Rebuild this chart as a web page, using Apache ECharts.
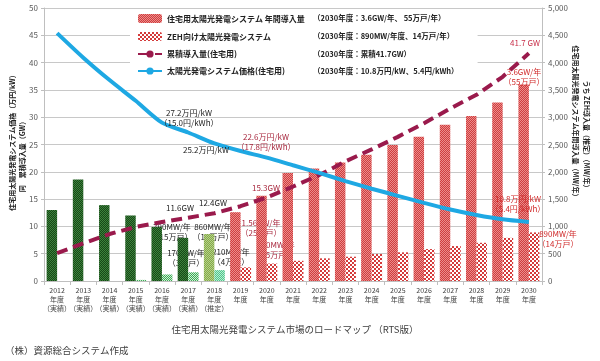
<!DOCTYPE html>
<html><head><meta charset="utf-8">
<script src="https://cdn.jsdelivr.net/npm/echarts@6/dist/echarts.min.js"></script>
<style>html,body{margin:0;padding:0;background:#fff}#c{width:600px;height:361px}</style>
</head><body><div id="c"></div>
<script>
const years = ['2012','2013','2014','2015','2016','2017','2018','2019','2020','2021','2022','2023','2024','2025','2026','2027','2028','2029','2030'];
const status = ['実績','実績','実績','実績','実績','実績','推定','','','','','','','','','','','',''];
const annualMW = [1300,1860,1390,1200,990,790,860,1260,1560,1980,2060,2170,2310,2490,2640,2860,3020,3270,3600];
const zehMW = [0,0,0,20,120,160,200,250,320,370,415,445,495,525,585,640,700,790,890];
const cumulativeGW = [5.1,6.9,8.6,9.9,10.8,11.6,12.4,13.7,15.3,17.3,19.4,21.9,24.1,26.4,28.9,31.6,34.1,37.4,41.7];
const priceManYen = [45.4,40.9,36.8,33.0,29.0,27.2,25.2,23.8,22.6,21.2,19.8,18.3,16.9,15.6,14.3,13.1,12.1,11.3,10.8];
const seriesNames = ['住宅用太陽光発電システム 年間導入量','ZEH向け太陽光発電システム','累積導入量(住宅用)','太陽光発電システム価格(住宅用)'];
const legendNotes = ['（2030年度：3.6GW/年、 55万戸/年）','（2030年度：890MW/年度、14万戸/年）','（2030年度：累積41.7GW）','（2030年度：10.8万円/kW、5.4円/kWh）'];
const leftTicks = {min:0,max:50,interval:5};
const rightTicks = {min:0,max:5000,interval:500};

const F = '"Noto Sans CJK JP","Noto Sans",sans-serif';
function checker(a,b,s){const c=document.createElement('canvas');c.width=c.height=2*s;const g=c.getContext('2d');g.fillStyle=a;g.fillRect(0,0,2*s,2*s);g.fillStyle=b;g.fillRect(0,0,s,s);g.fillRect(s,s,s,s);return {image:c,repeat:'repeat'};}
const P = {
  mainGreen: checker('#174717','#3C823C',1),
  mainOlive: checker('#86AA48','#B4D08A',1),
  mainRed: checker('#CF3E3E','#EC8C8C',1),
  zehGreen: checker('#3DAA55','#CDEFD3',1),
  zehTeal: checker('#4FC68C','#B5EDD0',1),
  zehRed: checker('#D43A3A','#FFFFFF',2)
};
function mainColor(i){return status[i]==='実績'?P.mainGreen:(status[i]==='推定'?P.mainOlive:P.mainRed);}
function zehColor(i){return status[i]==='実績'?P.zehGreen:(status[i]==='推定'?P.zehTeal:P.zehRed);}

const chart = echarts.init(document.getElementById('c'),null,{renderer:'canvas'});
const txt = (text,x,y,color,z,size)=>({type:'text',x:x,y:y,z:z||100,style:{text:text,fill:color||'#222',font:(size||8)+'px '+F,align:'center',verticalAlign:'middle',lineHeight:10}});
const vtxt = (text,x,y,rot)=>({type:'text',x:x,y:y,z:100,rotation:rot,style:{text:text,fill:'#222',font:'bold 7px '+F,align:'center',verticalAlign:'middle'}});
const dred='#A8283E', red='#D02A2A';
chart.setOption({
  animation:false,
  textStyle:{fontFamily:F},
  grid:{left:44,right:58,top:8,bottom:80},
  legend:{
    orient:'vertical',left:130,top:10,padding:[4,19,6,7],backgroundColor:'#fff',
    itemWidth:24,itemHeight:9,itemGap:9,
    data:seriesNames,
    formatter:function(n){return '{a|'+n+'}{b|'+legendNotes[seriesNames.indexOf(n)]+'}';},
    textStyle:{fontSize:8,fontWeight:'bold',color:'#222',rich:{a:{width:146,fontSize:8,fontWeight:'bold',color:'#222'},b:{fontSize:7.5,fontWeight:'bold',color:'#222'}}}
  },
  xAxis:{type:'category',data:years,
    axisLine:{lineStyle:{color:'#BFBFBF'}},
    axisTick:{show:true,length:4,lineStyle:{color:'#BFBFBF'}},
    axisLabel:{interval:0,fontSize:7,lineHeight:9,color:'#404040',margin:5,
      formatter:function(v,i){return v+'\n年度'+(status[i]?'\n（'+status[i]+'）':'');}}
  },
  yAxis:[
    {type:'value',min:leftTicks.min,max:leftTicks.max,interval:leftTicks.interval,
     axisLine:{show:true,lineStyle:{color:'#BFBFBF'}},axisTick:{show:true,length:3,lineStyle:{color:'#BFBFBF'}},
     splitLine:{lineStyle:{color:'#C8C8C8'}},axisLabel:{fontSize:8,color:'#595959',margin:6}},
    {type:'value',min:rightTicks.min,max:rightTicks.max,interval:rightTicks.interval,position:'right',
     axisLine:{show:true,lineStyle:{color:'#BFBFBF'}},axisTick:{show:true,length:3,lineStyle:{color:'#BFBFBF'}},
     splitLine:{show:false},axisLabel:{fontSize:8,color:'#595959',margin:6,formatter:function(v){return v.toLocaleString('en-US');}}}
  ],
  series:[
    {name:seriesNames[0],type:'bar',yAxisIndex:1,barGap:'0%',barCategoryGap:'20%',
     itemStyle:{color:P.mainRed},data:annualMW.map((v,i)=>({value:v,itemStyle:{color:mainColor(i)}}))},
    {name:seriesNames[1],type:'bar',yAxisIndex:1,
     itemStyle:{color:P.zehRed},data:zehMW.map((v,i)=>({value:v,itemStyle:{color:zehColor(i)}}))},
    {name:seriesNames[2],type:'line',yAxisIndex:0,symbol:'none',z:3,
     itemStyle:{color:'#9A1A4C'},lineStyle:{color:'#9A1A4C',width:4,type:[11,6]},data:cumulativeGW},
    {name:seriesNames[3],type:'line',yAxisIndex:0,symbol:'none',smooth:0.25,z:4,
     itemStyle:{color:'#1EA8E3'},lineStyle:{color:'#1EA8E3',width:4},data:priceManYen}
  ],
  graphic:[
    vtxt('住宅用太陽光発電システム価格（万円/kW）',12,141,Math.PI/2),
    vtxt('同　累積導入量（GW）',22,155,Math.PI/2),
    vtxt('住宅用太陽光発電システム年間導入量（MW/年）',576,123,-Math.PI/2),
    vtxt('うち ZEH導入量（推定）（MW/年）',587,136,-Math.PI/2),
    txt('27.2万円/kW\n（15.0円/kWh）',189,118,'#222'),
    txt('25.2万円/kW',206,150,'#222'),
    txt('22.6万円/kW\n（17.8円/kWh）',266,142,dred),
    txt('15.3GW',266,188,dred),
    txt('11.6GW',180,208,'#222'),
    txt('12.4GW',213,203,'#222'),
    txt('790MW/年\n（15万戸）',172,232,'#222',1),
    txt('860MW/年\n（15万戸）',213,232,'#222',1),
    txt('170MW/年\n（3万戸）',186,258,'#222',1),
    txt('210MW/年\n（4万戸）',231,257,'#222',1),
    txt('1.56GW/年\n（25万戸）',261,228,dred,1),
    txt('320MW/年\n（5万戸）',276,250,dred,1),
    txt('41.7 GW',525,43,'#C8304A'),
    txt('3.6GW/年\n（55万戸）',524,77,red),
    txt('10.8万円/kW\n（5.4円/kWh）',518,204,red),
    txt('890MW/年\n（14万戸）',558,239,red),
    txt('住宅用太陽光発電システム市場のロードマップ （RTS版）',295,329,'#404040',100,9.5),
    {type:'text',x:5,y:350,style:{text:'（株）資源総合システム作成',fill:'#404040',font:'9.5px '+F,align:'left',verticalAlign:'middle'}}
  ]
});
</script></body></html>
